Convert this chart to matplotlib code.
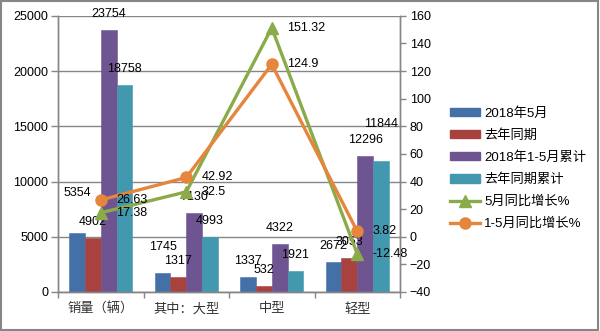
import numpy as np
import matplotlib
matplotlib.use("Agg")
import matplotlib.pyplot as plt
from matplotlib.patches import Rectangle
from matplotlib.lines import Line2D

plt.rcParams['font.family'] = ['Liberation Sans', 'Noto Sans CJK SC']

categories = ['销量（辆）', '其中：大型', '中型', '轻型']
bar_names = ['2018年5月', '去年同期', '2018年1-5月累计', '去年同期累计']
may_2018 = [5354, 1745, 1337, 2672]
may_2017 = [4902, 1317, 532, 3053]
ytd_2018 = [23754, 7130, 4322, 12296]
ytd_2017 = [18758, 4993, 1921, 11844]
line_names = ['5月同比增长%', '1-5月同比增长%']
may_growth = [17.38, 32.5, 151.32, -12.48]
ytd_growth = [26.63, 42.92, 124.9, 3.82]

bar_colors = ['#4470a8', '#a8423f', '#6e5592', '#4298af']
green = '#8bab4b'
orange = '#e6853c'
grey = '#868686'

# extra lift (points) for a few labels that were nudged up by hand
label_lift = {(0, 0): 17, (0, 1): 7, (3, 3): 15}

fig = plt.figure(figsize=(6, 3.31), dpi=100)
ax = fig.add_axes([0.0967, 0.118, 0.57, 0.834])
ax2 = ax.twinx()

x = np.arange(len(categories))
w = 0.185
offsets = [-1.5 * w, -0.5 * w, 0.5 * w, 1.5 * w]
series = [may_2018, may_2017, ytd_2018, ytd_2017]
handles = []
for i, (vals, col, name) in enumerate(zip(series, bar_colors, bar_names)):
    bars = ax.bar(x + offsets[i], vals, width=w, color=col, zorder=2,
                  edgecolor=col, linewidth=0.4, label=name)
    handles.append(Rectangle((0, 0), 1, 1, color=col))
    for j, (b, v) in enumerate(zip(bars, vals)):
        lift = 11.5 + label_lift.get((i, j), 0)
        ax.annotate(str(v), (b.get_x() + b.get_width() / 2, v),
                    xytext=(0, lift), textcoords='offset points',
                    ha='center', va='center', fontsize=9, zorder=5)

ax.set_xlim(-0.5, 3.5)
ax.set_ylim(0, 25000)
ax.set_yticks(range(0, 25001, 5000))
ax.grid(axis='y', color=grey, linewidth=1, zorder=0)
ax.set_axisbelow(True)
ax.set_xticks(x)
ax.set_xticklabels(categories, fontsize=9.5, color='#333333')
ax.set_xticks(np.arange(-0.5, 4, 1), minor=True)
ax.tick_params(axis='x', which='major', length=0, pad=8)
ax.tick_params(axis='x', which='minor', length=4, color=grey, width=1)
ax.tick_params(axis='y', length=5, color=grey, width=1, labelsize=9, pad=2)

for a in (ax, ax2):
    a.spines['top'].set_visible(False)
    for side in ('left', 'right', 'bottom'):
        a.spines[side].set_color(grey)
        a.spines[side].set_linewidth(1)

ax2.plot(x, may_growth, color=green, linewidth=2.4, marker='^',
         markersize=9, zorder=4)
ax2.plot(x, ytd_growth, color=orange, linewidth=2.4, marker='o',
         markersize=8, zorder=4)
for xs, v in zip(x, may_growth):
    ax2.annotate(f'{v:g}', (xs, v), xytext=(11, 0), textcoords='offset points',
                 ha='left', va='center', fontsize=9, zorder=6)
for xs, v in zip(x, ytd_growth):
    ax2.annotate(f'{v:g}', (xs, v), xytext=(11, 0), textcoords='offset points',
                 ha='left', va='center', fontsize=9, zorder=6)
ax2.set_ylim(-40, 160)
ax2.set_yticks(range(-40, 161, 20))
ax2.tick_params(axis='y', length=4, color=grey, width=1, labelsize=9, pad=3)

handles.append(Line2D([], [], color=green, linewidth=2.4, marker='^', markersize=8))
handles.append(Line2D([], [], color=orange, linewidth=2.4, marker='o', markersize=8))
fig.legend(handles, bar_names + line_names, loc='upper left',
           bbox_to_anchor=(0.742, 0.693), frameon=False, fontsize=9.5,
           handlelength=2.2, handleheight=0.6, labelspacing=0.72,
           handletextpad=0.35, borderaxespad=0)

fig.add_artist(Rectangle((0.002, 0.003), 0.995, 0.994, transform=fig.transFigure,
                         fill=False, edgecolor=grey, linewidth=1.5))

fig.savefig('out.png', dpi=100)
